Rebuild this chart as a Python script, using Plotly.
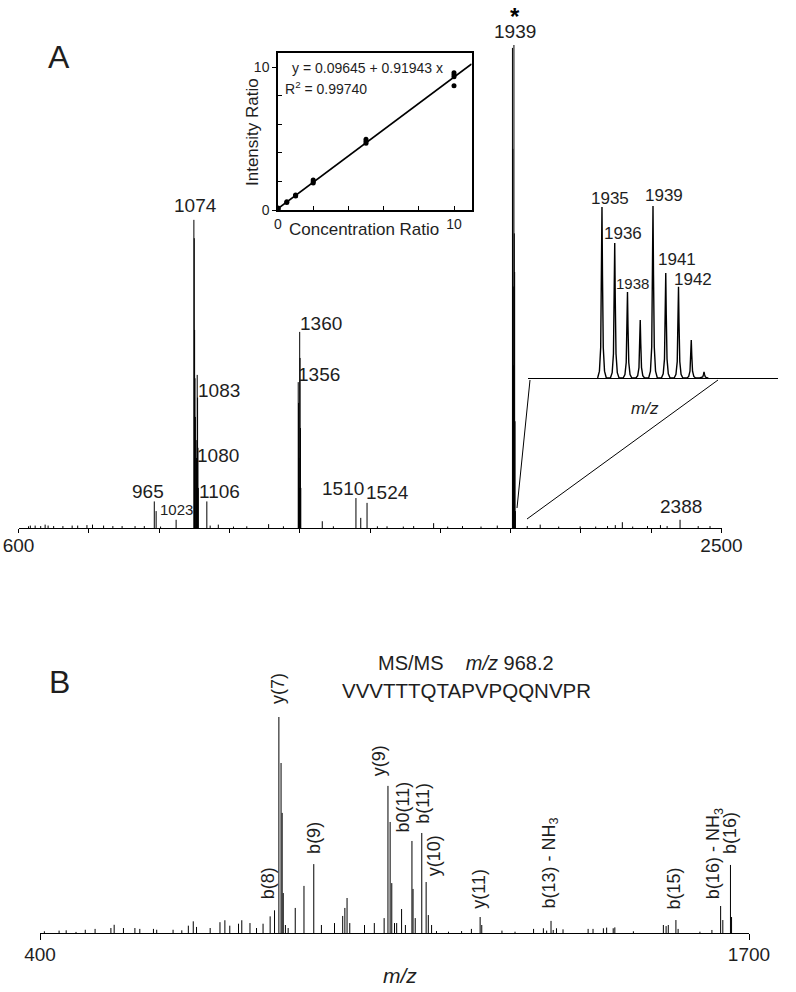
import plotly.graph_objects as go

# ---------------- DATA ----------------
# Panel A: MALDI-MS spectrum (m/z, relative intensity %)
A_MZ = [627, 632, 645, 660, 672, 680, 695, 720, 745, 760, 785, 800, 830, 855, 880, 915, 940,
        967, 972, 984, 1026,
        1074, 1075, 1076, 1077, 1078, 1080, 1081, 1083, 1084, 1085, 1086,
        1109, 1118, 1140, 1181, 1217, 1276, 1316,
        1356, 1357, 1358, 1359, 1360, 1361, 1362, 1363,
        1421, 1451, 1512, 1525, 1542, 1570, 1596, 1640, 1668, 1722, 1760, 1800, 1850, 1894,
        1935, 1936, 1937, 1938, 1939, 1940, 1941, 1942, 1943,
        1975, 2010, 2060, 2118, 2160, 2192, 2213, 2232, 2260, 2300, 2335, 2353, 2388, 2437, 2469]
A_INT = [0.35, 0.5, 0.5, 0.4, 0.7, 0.5, 0.4, 0.4, 0.5, 0.5, 0.6, 0.7, 0.5, 0.4, 0.4, 0.4, 0.4,
         5.5, 3.5, 0.3, 1.7,
         63.8, 60.0, 41.0, 31.0, 23.0, 18.2, 14.5, 31.7, 27.0, 16.6, 8.3,
         5.5, 0.5, 0.7, 0.3, 0.35, 0.8, 0.35,
         30.2, 25.9, 14.5, 8.3, 40.6, 35.2, 20.7, 8.3,
         1.4, 0.35, 6.2, 2.1, 5.2, 0.35, 0.35, 0.3, 0.4, 1.0, 0.3, 0.4, 0.3, 0.5,
         99.4, 78.5, 50.0, 33.7, 100.0, 61.0, 53.0, 22.1, 3.5,
         0.4, 0.7, 0.3, 0.35, 0.3, 0.4, 0.6, 1.2, 0.3, 0.4, 0.6, 0.4, 1.7, 0.4, 0.4]
A_TICKS = [600, 2500]
A_MINOR_TICKS = [790, 980, 1170, 1360, 1550, 1740, 1930, 2120, 2310]
# labelled peaks of panel A: (text, peak m/z)
A_LABELS = [("965", 967), ("1023", 1026), ("1074", 1074), ("1083", 1083), ("1080", 1080),
            ("1106", 1109), ("1360", 1360), ("1356", 1356), ("1510", 1512), ("1524", 1542),
            ("1939", 1939), ("2388", 2388)]

# Isotope cluster inset (m/z, relative intensity %)
ISO_MZ = [1935, 1936, 1937, 1938, 1939, 1940, 1941, 1942, 1943]
ISO_INT = [99.4, 78.5, 50.0, 33.7, 100.0, 61.0, 53.0, 22.1, 3.5]
ISO_LABELS = [("1935", 1935), ("1936", 1936), ("1938", 1937), ("1939", 1939), ("1941", 1940), ("1942", 1941)]

# Calibration inset
CONC = [0, 0, 0, 0.5, 0.5, 1, 1, 1, 2, 2, 2, 5, 5, 5, 10, 10, 10, 10]
IRATIO = [0.05, 0.1, 0.14, 0.52, 0.58, 0.98, 1.02, 1.05, 1.88, 1.98, 2.1, 4.66, 4.8, 4.94, 8.69, 9.32, 9.45, 9.6]
FIT_B0, FIT_B1 = 0.09645, 0.91943
FIT_R2 = "0.99740"
FIT_X = [0, 11]
CAL_TICKS = [0, 10]
CAL_MINOR = [2, 4, 6, 8]

# Panel B: MS/MS spectrum (m/z, relative intensity %)
B_MZ = [408, 435, 448, 466, 483, 501, 530, 536, 553, 574, 583, 608, 614, 644, 660, 672, 681, 687,
        712, 730, 739, 748, 764, 770, 785, 797, 809, 822, 830,
        838, 842, 844, 846, 850, 855,
        868, 884, 902, 916, 940, 955, 959, 963, 968, 995, 1013, 1031,
        1038, 1042, 1045, 1050, 1054, 1063, 1070,
        1082, 1084, 1088, 1100, 1108, 1112, 1118,
        1127, 1149, 1173, 1191, 1207, 1210, 1247, 1271, 1305, 1323, 1329, 1337, 1341, 1347, 1359,
        1405, 1414, 1433, 1439, 1451, 1454, 1488, 1543, 1548, 1552, 1566, 1570, 1610, 1632,
        1648, 1652, 1666, 1668]
B_INT = [0.8, 1.1, 1.25, 0.5, 1.5, 1.9, 2.3, 3.8, 2.3, 2.3, 1.9, 1.9, 1.5, 1.5, 1.25, 3.4, 5.4, 2.8,
         2.3, 5.0, 5.9, 3.4, 4.3, 5.9, 4.6, 2.3, 4.3, 7.7, 10.5,
         100.0, 78.7, 55.6, 18.5, 3.7, 2.3,
         11.6, 21.8, 31.9, 3.7, 4.6, 7.9, 11.6, 16.2, 4.6, 3.7, 4.6, 6.9,
         68.1, 51.4, 23.1, 4.6, 4.6, 11.1, 3.7,
         42.6, 20.4, 6.9, 46.3, 23.6, 8.3, 3.7,
         0.9, 0.6, 0.9, 1.9, 7.4, 3.7, 1.1, 0.6, 1.9, 2.2, 1.1, 5.6, 1.4, 2.2, 1.7,
         1.9, 1.9, 2.2, 2.5, 2.2, 2.6, 0.8, 3.7, 3.2, 3.7, 6.0, 1.9, 0.6, 1.4,
         12.5, 6.0, 31.5, 7.4]
B_TICKS = [400, 1700]
B_LABELS = [("y(7)", 838), ("b(8)", 830), ("b(9)", 902), ("y(9)", 1038), ("b0(11)", 1082),
            ("b(11)", 1100), ("y(10)", 1108), ("y(11)", 1207), ("b(13) - NH<sub>3</sub>", 1337),
            ("b(15)", 1566), ("b(16) - NH<sub>3</sub>", 1648), ("b(16)", 1666)]

# ---------------- STYLE / LAYOUT ----------------
W, H = 796, 992
FONT = "Liberation Sans, Arial, sans-serif"
TXT = "#1e1e1e"


def px(x):
    return x / W


def py(y):
    return 1 - y / H


def sticks(mz, inten):
    xs, ys = [], []
    for m, v in zip(mz, inten):
        xs += [m, m, None]
        ys += [0, v, None]
    return xs, ys


# peak profile used to draw the isotope inset peaks (shape only)
PROFILE_DX = [-0.34, -0.2, -0.1, -0.04, 0, 0.04, 0.1, 0.2, 0.34]
PROFILE_F = [0, 0.04, 0.18, 0.6, 1, 0.6, 0.18, 0.04, 0]


def profile(mz, inten):
    xs, ys = [], []
    for m, v in zip(mz, inten):
        xs += [m + d for d in PROFILE_DX]
        ys += [v * f for f in PROFILE_F]
    return xs, ys


fig = go.Figure()

ax, ay = sticks(A_MZ, A_INT)
fig.add_trace(go.Scatter(x=ax, y=ay, mode="lines", line=dict(color="black", width=1),
                         xaxis="x", yaxis="y", hoverinfo="skip"))

ix, iy = profile(ISO_MZ, ISO_INT)
fig.add_trace(go.Scatter(x=ix, y=iy, mode="lines", line=dict(color="black", width=1.4),
                         xaxis="x3", yaxis="y3", hoverinfo="skip"))

fig.add_trace(go.Scatter(x=CONC, y=IRATIO, mode="markers", marker=dict(color="black", size=5),
                         xaxis="x2", yaxis="y2"))
fig.add_trace(go.Scatter(x=FIT_X, y=[FIT_B0 + FIT_B1 * v for v in FIT_X], mode="lines",
                         line=dict(color="black", width=1.6), xaxis="x2", yaxis="y2"))

bx, by = sticks(B_MZ, B_INT)
fig.add_trace(go.Scatter(x=bx, y=by, mode="lines", line=dict(color="black", width=1),
                         xaxis="x4", yaxis="y4", hoverinfo="skip"))

hidden = dict(visible=False, showgrid=False, zeroline=False, automargin=False)

layout = dict(
    width=W, height=H, margin=dict(l=0, r=0, t=0, b=0, pad=0),
    paper_bgcolor="white", plot_bgcolor="white", showlegend=False,
    font=dict(family=FONT, color=TXT),
    xaxis=dict(domain=[px(18.5), px(721.5)], range=[600, 2500], showgrid=False, zeroline=False,
               showline=True, linecolor="black", linewidth=1.2, ticks="outside", ticklen=4,
               tickcolor="black", tickvals=A_TICKS, ticktext=[str(v) for v in A_TICKS],
               minor=dict(tickvals=A_MINOR_TICKS, ticks="outside", ticklen=4, tickcolor="black", showgrid=False),
               tickfont=dict(size=19, color=TXT), anchor="y", ticklabelstandoff=-4, automargin=False),
    yaxis=dict(domain=[py(528), py(45)], range=[0, 100], anchor="x", **hidden),
    xaxis2=dict(domain=[px(278), px(471.6)], range=[0, 11], showgrid=False, zeroline=False,
                showline=True, mirror=True, linecolor="black", linewidth=1.5, ticks="inside",
                ticklen=4, tickcolor="black", tickvals=CAL_TICKS, ticktext=[str(v) for v in CAL_TICKS],
                minor=dict(tickvals=CAL_MINOR, ticks="inside", ticklen=4, tickcolor="black", showgrid=False),
                tickfont=dict(size=14, color=TXT), anchor="y2", automargin=False),
    yaxis2=dict(domain=[py(210), py(52.7)], range=[0, 11], showgrid=False, zeroline=False,
                showline=True, mirror=True, linecolor="black", linewidth=1.5, ticks="outside",
                ticklen=4, tickcolor="black", tickvals=CAL_TICKS, ticktext=[str(v) for v in CAL_TICKS],
                minor=dict(tickvals=CAL_MINOR, ticks="inside", ticklen=4, tickcolor="black", showgrid=False),
                tickfont=dict(size=14, color=TXT), anchor="x2", automargin=False),
    xaxis3=dict(domain=[px(528), px(778)], range=[1929.2, 1948.8], showgrid=False, zeroline=False,
                showline=True, linecolor="black", linewidth=1.2, showticklabels=False, ticks="",
                anchor="y3", automargin=False),
    yaxis3=dict(domain=[py(378), py(206)], range=[0, 100], anchor="x3", **hidden),
    xaxis4=dict(domain=[px(40), px(749)], range=[400, 1700], showgrid=False, zeroline=False,
                showline=True, linecolor="black", linewidth=1.2, ticks="outside", ticklen=6,
                tickcolor="black", tickvals=B_TICKS, ticktext=[str(v) for v in B_TICKS],
                tickfont=dict(size=19, color=TXT), anchor="y4", ticklabelstandoff=-2, automargin=False),
    yaxis4=dict(domain=[py(933), py(717)], range=[0, 100], anchor="x4", **hidden),
)
fig.update_layout(**layout)

ann = []
A_INT_OF = dict(zip(A_MZ, A_INT))
# label offsets (pixels) relative to the peak top: dx, dy (down positive), font size
A_LABEL_POS = {"965": (-6, -10, 19), "1023": (0, -10, 15), "1074": (1.5, -14, 19),
               "1083": (22, 16, 19), "1080": (22, 15, 19), "1106": (13, -10, 19),
               "1360": (21.5, -8, 19), "1356": (21, -8, 19), "1510": (-13, -10, 19),
               "1524": (20, -10, 19), "1939": (1, -14, 19), "2388": (1, -13, 19)}
for text, m in A_LABELS:
    dx, dy, s = A_LABEL_POS[text]
    ann.append(dict(x=m, y=A_INT_OF[m], xref="x", yref="y", text=text, showarrow=False,
                    xanchor="center", yanchor="middle", xshift=dx, yshift=-dy,
                    font=dict(size=s, color=TXT)))
# asterisk above 1939
ann.append(dict(x=1939, y=100, xref="x", yref="y", text="<b>*</b>", showarrow=False,
                xanchor="center", yanchor="middle", xshift=1, yshift=29, font=dict(size=24, color="black")))

ISO_INT_OF = dict(zip(ISO_MZ, ISO_INT))
ISO_LABEL_POS = {"1935": (7.7, -9, 17), "1936": (8, -9, 17), "1938": (4.7, -9, 15),
                 "1939": (11, -10, 17), "1941": (11, -13.5, 17), "1942": (14.7, -7, 17)}
for text, m in ISO_LABELS:
    dx, dy, s = ISO_LABEL_POS[text]
    ann.append(dict(x=m, y=ISO_INT_OF[m], xref="x3", yref="y3", text=text, showarrow=False,
                    xanchor="center", yanchor="middle", xshift=dx, yshift=-dy,
                    font=dict(size=s, color=TXT)))

B_INT_OF = dict(zip(B_MZ, B_INT))
B_LABEL_POS = {"y(7)": (-1.5, 11), "b(8)": (-6.5, 9), "b(9)": (0, 8), "y(9)": (-9, 8),
               "b0(11)": (-8, 7), "b(11)": (1.5, 7), "y(10)": (7.5, 4), "y(11)": (-1.5, 6),
               "b(13) - NH<sub>3</sub>": (-1, 10), "b(15)": (-1.5, 9),
               "b(16) - NH<sub>3</sub>": (-6, 5), "b(16)": (-0.5, 9)}
for text, m in B_LABELS:
    dx, gap = B_LABEL_POS[text]
    ann.append(dict(x=m, y=B_INT_OF[m], xref="x4", yref="y4", text=text, showarrow=False,
                    textangle=-90, xanchor="center", yanchor="bottom", xshift=dx, yshift=gap,
                    font=dict(size=18, color=TXT)))


# free texts (paper positions)
def ptext(x, y, text, size, **kw):
    d = dict(x=px(x), y=py(y), xref="paper", yref="paper", text=text, showarrow=False,
             font=dict(size=size, color=TXT), xanchor="center", yanchor="middle")
    d.update(kw)
    ann.append(d)


ptext(59, 57, "A", 32)
ptext(60, 682, "B", 32)
ptext(252, 132, "Intensity Ratio", 17, textangle=-90)
ptext(363.5, 229, "Concentration Ratio", 17)
ptext(290, 68, "y = %.5f + %.5f x" % (FIT_B0, FIT_B1), 14, xanchor="left")
ptext(283, 88, "R<sup>2</sup> = " + FIT_R2, 14, xanchor="left")
ptext(645, 408, "<i>m/z</i>", 17)
ptext(466, 663, "MS/MS&nbsp;&nbsp;&nbsp;&nbsp;<i>m/z</i> 968.2", 20)
ptext(466, 690, "VVVTTTQTAPVPQQNVPR", 20.5)
ptext(400, 975, "<i>m/z</i>", 21)

fig.update_layout(annotations=ann)

# zoom connector lines
fig.add_shape(type="line", xref="paper", yref="paper", x0=px(517), y0=py(508), x1=px(530), y1=py(380),
              line=dict(color="black", width=1))
fig.add_shape(type="line", xref="paper", yref="paper", x0=px(527), y0=py(519), x1=px(718), y1=py(380),
              line=dict(color="black", width=1))

fig.write_html("out.html", config={"displayModeBar": False},
               post_script="document.body.style.margin='0';")
